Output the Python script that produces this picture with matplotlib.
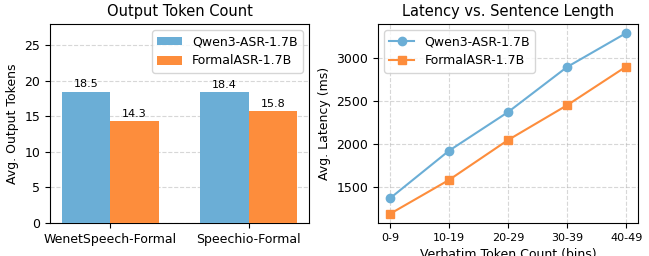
import matplotlib
matplotlib.use("Agg")
import matplotlib.pyplot as plt
import numpy as np

datasets = ["WenetSpeech-Formal", "Speechio-Formal"]
qwen_tokens = [18.5, 18.4]
formal_tokens = [14.3, 15.8]

bins = ["0-9", "10-19", "20-29", "30-39", "40-49"]
qwen_latency = [1365, 1920, 2370, 2895, 3290]
formal_latency = [1185, 1580, 2045, 2450, 2900]

blue = "#6baed6"
orange = "#fd8d3c"

fig = plt.figure(figsize=(6.49, 2.56), dpi=100)
ax1 = fig.add_axes([50/649, 1-223/256, (309-50)/649, (223-24)/256])
ax2 = fig.add_axes([378/649, 1-223/256, (638-378)/649, (223-24)/256])

x = np.arange(len(datasets))
w = 0.35
b1 = ax1.bar(x - w/2, qwen_tokens, w, color=blue, label="Qwen3-ASR-1.7B", zorder=3)
b2 = ax1.bar(x + w/2, formal_tokens, w, color=orange, label="FormalASR-1.7B", zorder=3)
for bars in (b1, b2):
    for r in bars:
        ax1.text(r.get_x() + r.get_width()/2, r.get_height() + 0.3, f"{r.get_height():.1f}",
                 ha="center", va="bottom", fontsize=8)
ax1.set_xticks(x)
ax1.set_xticklabels(datasets, fontsize=9)
ax1.set_ylim(0, 28)
ax1.set_yticks([0, 5, 10, 15, 20, 25])
ax1.tick_params(labelsize=9)
ax1.set_ylabel("Avg. Output Tokens", fontsize=9)
ax1.set_title("Output Token Count", fontsize=10.5)
ax1.yaxis.grid(True, linestyle="--", alpha=0.5, zorder=0)
ax1.legend(fontsize=9, loc="upper right")

xi = np.arange(len(bins))
ax2.plot(xi, qwen_latency, marker="o", color=blue, lw=1.5, ms=6, label="Qwen3-ASR-1.7B")
ax2.plot(xi, formal_latency, marker="s", color=orange, lw=1.5, ms=6, label="FormalASR-1.7B")
ax2.set_xticks(xi)
ax2.set_xticklabels(bins, fontsize=8)
ax2.set_yticks([1500, 2000, 2500, 3000])
ax2.tick_params(axis="y", labelsize=9)
ax2.set_xlabel("Verbatim Token Count (bins)", fontsize=9)
ax2.set_ylabel("Avg. Latency (ms)", fontsize=9)
ax2.set_title("Latency vs. Sentence Length", fontsize=10.5)
ax2.grid(True, linestyle="--", alpha=0.5)
ax2.legend(fontsize=9, loc="upper left")

fig.savefig("out.png", dpi=100)
